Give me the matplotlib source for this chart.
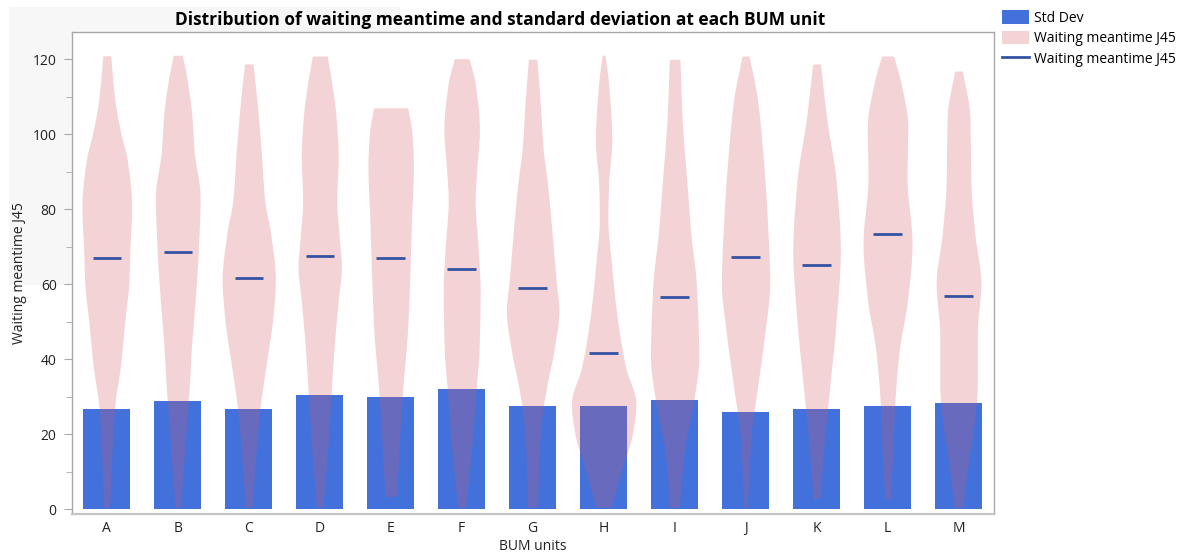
import numpy as np
import matplotlib
matplotlib.use("Agg")
import matplotlib.pyplot as plt
from matplotlib.patches import Patch, Rectangle
from matplotlib.lines import Line2D

plt.rcParams['font.family'] = ['Open Sans', 'DejaVu Sans']

# ---------------- data ----------------
units = ["A", "B", "C", "D", "E", "F", "G", "H", "I", "J", "K", "L", "M"]
std_dev = [26.9, 28.8, 26.7, 30.4, 30.1, 32.0, 27.7, 27.7, 29.1, 26.1, 26.9, 27.5, 28.5]
mean_wait = [67.0, 68.7, 61.7, 67.6, 67.1, 64.2, 59.1, 41.8, 56.6, 67.4, 65.1, 73.5, 56.8]

# violin outlines: waiting time levels (y) and full density width (in category units)
viol_y = {
    "A": [121, 109, 100.2, 93, 80.6, 69, 60.2, 51.3, 38, 27.3, 15.7, 6.8, 0.6],
    "B": [121.1, 113.6, 104.7, 95.7, 83.3, 69, 55.7, 42.4, 33.5, 24.6, 11.3, 0.6],
    "C": [118.8, 109, 95.7, 82.4, 73.5, 61.1, 51.3, 38, 26.4, 15.7, 0.6],
    "D": [120.9, 113.6, 104.7, 94, 82.4, 72.6, 64.6, 55.7, 42.4, 29.1, 15.7, 0.6],
    "E": [107.1, 100.2, 91.3, 78, 60.2, 46.9, 33.5, 20.2, 3.5],
    "F": [120.2, 113.6, 101.1, 91.3, 82.4, 69, 58.4, 42.4, 33.5, 20.2, 0.6],
    "G": [120, 109, 95.7, 86.8, 73.5, 60.2, 53.1, 42.4, 33.5, 24.6, 15.7, 0.6],
    "H": [121.1, 113.6, 98.4, 86.8, 78, 64.6, 51.3, 38, 28.2, 20.2, 11.3, 0.6],
    "I": [120, 104.7, 86.8, 73.5, 60.2, 40.6, 29.1, 15.7, 0.6],
    "J": [120.9, 109, 95.7, 78, 60.2, 46.9, 33.5, 20.2, 0.6],
    "K": [118.8, 104.7, 86.8, 69, 51.3, 33.5, 20.2, 2.9],
    "L": [120.9, 113.6, 102, 88.6, 70.9, 55.7, 42.4, 29.1, 15.7, 2.9],
    "M": [116.9, 104.7, 86.8, 73.5, 60.2, 46.9, 33.5, 24.6, 11.3, 0.6],
}
viol_w = {
    "A": [0.11, 0.23, 0.40, 0.58, 0.70, 0.65, 0.62, 0.52, 0.38, 0.22, 0.15, 0.11, 0.08],
    "B": [0.13, 0.28, 0.40, 0.46, 0.63, 0.58, 0.49, 0.38, 0.33, 0.26, 0.16, 0.07],
    "C": [0.12, 0.23, 0.35, 0.45, 0.62, 0.75, 0.68, 0.48, 0.31, 0.21, 0.09],
    "D": [0.21, 0.34, 0.46, 0.52, 0.48, 0.55, 0.61, 0.52, 0.40, 0.31, 0.22, 0.09],
    "E": [0.48, 0.60, 0.64, 0.59, 0.53, 0.47, 0.35, 0.26, 0.16],
    "F": [0.21, 0.38, 0.50, 0.43, 0.38, 0.47, 0.52, 0.49, 0.42, 0.32, 0.11],
    "G": [0.12, 0.21, 0.30, 0.42, 0.55, 0.67, 0.74, 0.60, 0.41, 0.26, 0.19, 0.14],
    "H": [0.04, 0.14, 0.23, 0.14, 0.12, 0.23, 0.38, 0.62, 0.91, 0.81, 0.53, 0.21],
    "I": [0.15, 0.21, 0.35, 0.46, 0.61, 0.68, 0.54, 0.27, 0.13],
    "J": [0.10, 0.34, 0.48, 0.61, 0.68, 0.54, 0.35, 0.16, 0.04],
    "K": [0.11, 0.28, 0.56, 0.67, 0.56, 0.38, 0.24, 0.09],
    "L": [0.17, 0.38, 0.57, 0.55, 0.69, 0.56, 0.33, 0.21, 0.15, 0.08],
    "M": [0.11, 0.32, 0.35, 0.46, 0.63, 0.53, 0.53, 0.46, 0.26, 0.12],
}

title = "Distribution of waiting meantime and standard deviation at each BUM unit"
xlabel = "BUM units"
ylabel = "Waiting meantime J45"
legend_labels = ["Std Dev", "Waiting meantime J45", "Waiting meantime J45"]

BAR_C = "#4371dc"
VIOL_C = "#d55665"
VIOL_A = 0.26
MEAN_C = "#3553a3"


def smooth_outline(y, w):
    """Monotone cubic (PCHIP-style) curve through the outline points, for drawing only."""
    y = np.asarray(y, float)[::-1]
    w = np.asarray(w, float)[::-1]
    h = np.diff(y)
    d = np.diff(w) / h
    m = np.zeros_like(w)
    for k in range(1, len(w) - 1):
        if d[k - 1] * d[k] > 0:
            w1 = 2 * h[k] + h[k - 1]
            w2 = h[k] + 2 * h[k - 1]
            m[k] = (w1 + w2) / (w1 / d[k - 1] + w2 / d[k])
        else:
            m[k] = 0.0
    m[0] = d[0]
    m[-1] = d[-1]
    ys, ws = [], []
    for i in range(len(y) - 1):
        t = np.linspace(0, 1, 24, endpoint=False)
        h00 = 2 * t**3 - 3 * t**2 + 1
        h10 = t**3 - 2 * t**2 + t
        h01 = -2 * t**3 + 3 * t**2
        h11 = t**3 - t**2
        ys.append(y[i] + t * h[i])
        ws.append(h00 * w[i] + h10 * h[i] * m[i] + h01 * w[i + 1] + h11 * h[i] * m[i + 1])
    ys.append([y[-1]])
    ws.append([w[-1]])
    return np.concatenate(ys), np.clip(np.concatenate(ws), 0.01, None)


fig = plt.figure(figsize=(11.84, 5.53), dpi=100)
fig.patch.set_facecolor("white")
fig.patches.append(Rectangle((9 / 1184, 1 - 285 / 553), (400 - 9) / 1184, (285 - 7) / 553,
                             transform=fig.transFigure, facecolor="#f7f7f7",
                             edgecolor="none", zorder=-10))

ax = fig.add_axes([72 / 1184, 1 - 514 / 553, (994 - 72) / 1184, (514 - 32) / 553])
ax.set_facecolor("white")

x = np.arange(len(units))
ax.bar(x, std_dev, width=0.66, color=BAR_C, zorder=2)

for i, u in enumerate(units):
    yy, ww = smooth_outline(viol_y[u], viol_w[u])
    ax.fill_betweenx(yy, i - ww / 2, i + ww / 2, color=VIOL_C, alpha=VIOL_A, lw=0, zorder=3)

ax.hlines(mean_wait, x - 0.2, x + 0.2, color=MEAN_C, lw=2.0, zorder=4)

ax.set_xlim(-0.49, 12.5)
ax.set_ylim(-1.2, 127.3)
ax.set_xticks(x)
ax.set_xticklabels(units)
ax.set_yticks(np.arange(0, 121, 20))
ax.set_yticks(np.arange(10, 121, 20), minor=True)
ax.tick_params(axis="x", length=0, labelsize=10, labelcolor="#222222", pad=5)
ax.tick_params(axis="y", which="major", length=6, color="#a8a8a8", labelsize=10,
               labelcolor="#222222", pad=5)
ax.tick_params(axis="y", which="minor", length=4, color="#a8a8a8")
for s in ax.spines.values():
    s.set_color("#a8a8a8")
    s.set_linewidth(1.0)
ax.spines["bottom"].set_linewidth(1.6)
ax.spines["bottom"].set_color("#c4c4c4")

fig.text(500 / 1184, 1 - 20 / 553, title, ha="center", va="center",
         fontsize=12.5, fontweight="bold", color="black")
fig.text(533 / 1184, 1 - 546 / 553, xlabel, ha="center", va="center",
         fontsize=10, color="#222222")
fig.text(20 / 1184, 1 - 273 / 553, ylabel, ha="center", va="center",
         rotation=90, fontsize=10, color="#222222")

handles = [Patch(facecolor=BAR_C, edgecolor="none"),
           Patch(facecolor=VIOL_C, alpha=VIOL_A, edgecolor="none"),
           Line2D([0], [0], color=MEAN_C, lw=2.0)]
fig.legend(handles, legend_labels, loc="upper left",
           bbox_to_anchor=(1001 / 1184, 1 - 9 / 553), frameon=False, fontsize=10,
           handlelength=1.9, handleheight=1.1, handletextpad=0.35, labelspacing=0.38,
           borderaxespad=0, borderpad=0.1)

fig.savefig("out.png", dpi=100, facecolor="white")
